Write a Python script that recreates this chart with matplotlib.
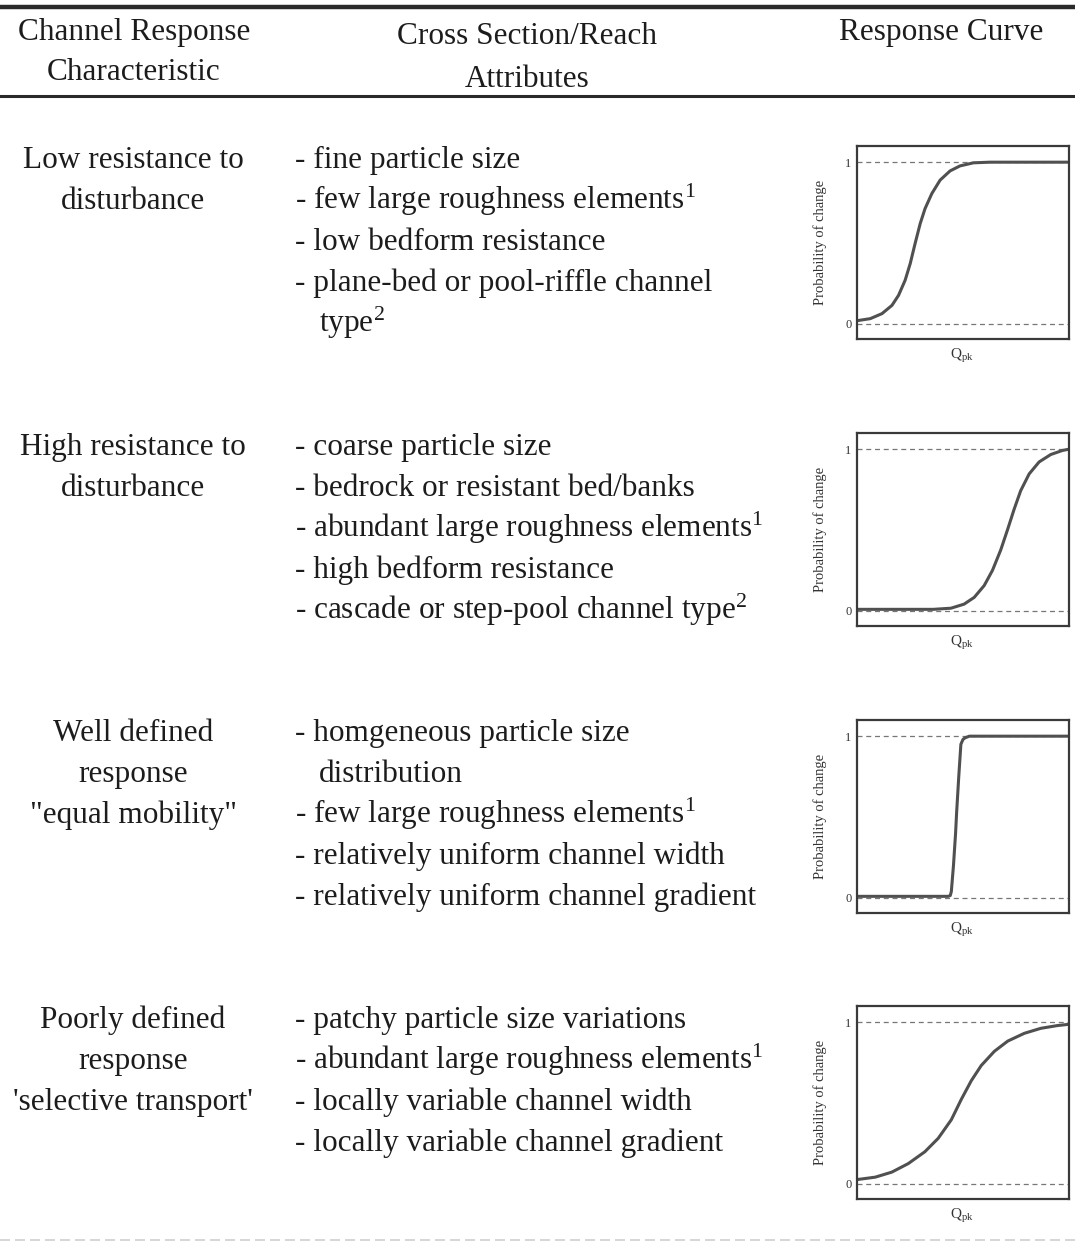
import matplotlib
matplotlib.use("Agg")
import matplotlib.pyplot as plt

plt.rcParams['font.family'] = ['Liberation Serif', 'DejaVu Serif']
plt.rcParams['mathtext.fontset'] = 'custom'
plt.rcParams['mathtext.rm'] = 'Liberation Serif'
plt.rcParams['mathtext.it'] = 'Liberation Serif:italic'

W, H = 1075, 1246

# header
headers = [("Channel Response\nCharacteristic", 134),
           ("Cross Section/Reach\nAttributes", 527),
           ("Response Curve", 941)]

# left column, one entry per row
characteristics = [
    ["Low resistance to", "disturbance"],
    ["High resistance to", "disturbance"],
    ["Well defined", "response", "\"equal mobility\""],
    ["Poorly defined", "response", "'selective transport'"],
]

# middle column (indent flag marks continuation lines)
attributes = [
    [("- fine particle size", 0), ("- few large roughness elements$^1$", 0),
     ("- low bedform resistance", 0), ("- plane-bed or pool-riffle channel", 0),
     ("type$^2$", 1)],
    [("- coarse particle size", 0), ("- bedrock or resistant bed/banks", 0),
     ("- abundant large roughness elements$^1$", 0), ("- high bedform resistance", 0),
     ("- cascade or step-pool channel type$^2$", 0)],
    [("- homgeneous particle size", 0), ("distribution", 1),
     ("- few large roughness elements$^1$", 0), ("- relatively uniform channel width", 0),
     ("- relatively uniform channel gradient", 0)],
    [("- patchy particle size variations", 0), ("- abundant large roughness elements$^1$", 0),
     ("- locally variable channel width", 0), ("- locally variable channel gradient", 0)],
]

# response curves (Qpk scaled 0-1, probability 0-1)
q_low = [0.0, 0.063, 0.118, 0.165, 0.196, 0.227, 0.251, 0.274, 0.298, 0.321, 0.353, 0.392, 0.439, 0.486, 0.549, 0.627, 1.0]
p_low = [0.02, 0.033, 0.064, 0.115, 0.177, 0.27, 0.373, 0.497, 0.62, 0.713, 0.806, 0.889, 0.946, 0.977, 0.996, 1.0, 1.0]

q_high = [0.0, 0.36, 0.443, 0.505, 0.553, 0.60, 0.639, 0.678, 0.71, 0.741, 0.772, 0.812, 0.859, 0.914, 0.969, 1.0]
p_high = [0.01, 0.01, 0.017, 0.042, 0.084, 0.157, 0.251, 0.377, 0.502, 0.628, 0.743, 0.847, 0.921, 0.967, 0.992, 1.0]

q_equal = [0.0, 0.20, 0.43, 0.44, 0.445, 0.455, 0.465, 0.47, 0.48, 0.49, 0.50, 0.51, 0.53, 0.70, 1.0]
p_equal = [0.01, 0.01, 0.01, 0.015, 0.04, 0.20, 0.40, 0.53, 0.75, 0.95, 0.98, 0.99, 1.0, 1.0, 1.0]

q_select = [0.0, 0.086, 0.164, 0.242, 0.32, 0.383, 0.445, 0.492, 0.539, 0.586, 0.648, 0.711, 0.789, 0.867, 0.945, 1.0]
p_select = [0.027, 0.042, 0.073, 0.126, 0.199, 0.282, 0.397, 0.523, 0.638, 0.732, 0.82, 0.883, 0.931, 0.962, 0.979, 0.987]

curves = [(q_low, p_low), (q_high, p_high), (q_equal, p_equal), (q_select, p_select)]

row_tops = [159, 446, 732, 1019]   # first text line centre of each row
panel_tops = [146, 433, 720, 1006]
line_gap = 41
txt = '#1c1c1c'


def fy(y):
    return 1 - y / H


fig = plt.figure(figsize=(W / 100, H / 100), dpi=100)

# rules
fig.add_artist(plt.Line2D([0, 1], [fy(7), fy(7)], color='#2a2a2a', lw=3.2))
fig.add_artist(plt.Line2D([0, 1], [fy(96), fy(96)], color='#2a2a2a', lw=2.2))
fig.add_artist(plt.Line2D([0, 1], [fy(1240), fy(1240)], color='#d0d0d0', lw=1.2, ls=(0, (6, 3))))

# header text
head_base = [(40, 80), (44, 87), (40, None)]
for (label, x), (b1, b2) in zip(headers, head_base):
    parts = label.split('\n')
    fig.text(x / W, fy(b1), parts[0], ha='center', va='baseline', fontsize=22.5, color=txt)
    if b2 is not None:
        fig.text(x / W, fy(b2), parts[1], ha='center', va='baseline', fontsize=22.5, color=txt)

for i in range(4):
    base = row_tops[i] + 9
    for k, s in enumerate(characteristics[i]):
        fig.text(133 / W, fy(base + k * line_gap), s, ha='center', va='baseline',
                 fontsize=22.5, color=txt)
    for k, (s, ind) in enumerate(attributes[i]):
        x = 295 if ind == 0 else 319
        fig.text(x / W, fy(base + k * line_gap), s, ha='left', va='baseline',
                 fontsize=22.5, color=txt)

    # response curve panel
    top = panel_tops[i]
    ax = fig.add_axes([857 / W, fy(top + 193), 212 / W, 193 / H])
    q, p = curves[i]
    ax.plot(q, p, color='#505050', lw=2.2, solid_capstyle='round', solid_joinstyle='round')
    ax.axhline(0, color='#777777', lw=0.9, ls=(0, (4, 3)), zorder=0)
    ax.axhline(1, color='#777777', lw=0.9, ls=(0, (4, 3)), zorder=0)
    ax.set_xlim(0, 1)
    ax.set_ylim(-0.093, 1.1)
    ax.set_xticks([])
    ax.set_yticks([0, 1])
    ax.set_yticklabels(['0', '1'], fontsize=9, color='#333333')
    ax.tick_params(axis='y', length=0, pad=4)
    for sp in ax.spines.values():
        sp.set_color('#3a3a3a')
        sp.set_linewidth(1.6)
    ax.text(-0.175, 0.5, 'Probability of change', rotation=90, ha='center', va='center',
            fontsize=10.5, color='#333333', transform=ax.transAxes)
    ax.text(0.495, -0.088, r'Q$_{\mathrm{pk}}$', ha='center', va='center',
            fontsize=11, color='#333333', transform=ax.transAxes)

fig.savefig('out.png', dpi=100)
